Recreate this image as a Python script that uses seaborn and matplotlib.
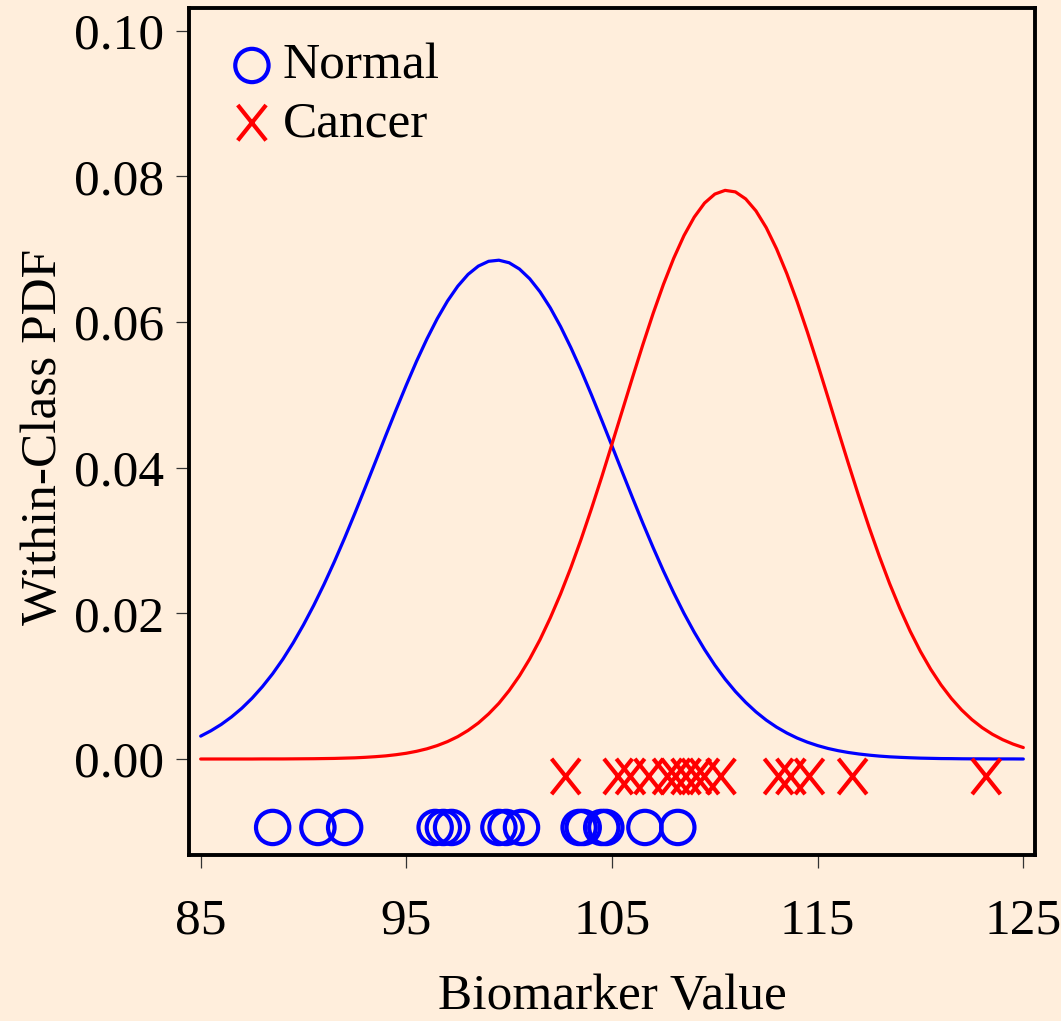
import numpy as np
import pandas as pd
import matplotlib
matplotlib.use("Agg")
import matplotlib.pyplot as plt
from matplotlib.path import Path
import seaborn as sns

# ---------------- data ----------------
biomarker_grid = [85.0, 85.5, 86.0, 86.5, 87.0, 87.5, 88.0, 88.5, 89.0, 89.5,
                  90.0, 90.5, 91.0, 91.5, 92.0, 92.5, 93.0, 93.5, 94.0, 94.5,
                  95.0, 95.5, 96.0, 96.5, 97.0, 97.5, 98.0, 98.5, 99.0, 99.5,
                  100.0, 100.5, 101.0, 101.5, 102.0, 102.5, 103.0, 103.5, 104.0, 104.5,
                  105.0, 105.5, 106.0, 106.5, 107.0, 107.5, 108.0, 108.5, 109.0, 109.5,
                  110.0, 110.5, 111.0, 111.5, 112.0, 112.5, 113.0, 113.5, 114.0, 114.5,
                  115.0, 115.5, 116.0, 116.5, 117.0, 117.5, 118.0, 118.5, 119.0, 119.5,
                  120.0, 120.5, 121.0, 121.5, 122.0, 122.5, 123.0, 123.5, 124.0, 124.5,
                  125.0]
normal_pdf = [0.00314, 0.00388, 0.00475, 0.00578, 0.00697, 0.00835, 0.00993, 0.01171, 0.01372, 0.01596,
              0.01843, 0.02111, 0.02400, 0.02709, 0.03035, 0.03376, 0.03727, 0.04083, 0.04442, 0.04794,
              0.05136, 0.05464, 0.05768, 0.06045, 0.06288, 0.06492, 0.06654, 0.06768, 0.06834, 0.06849,
              0.06814, 0.06728, 0.06594, 0.06415, 0.06195, 0.05938, 0.05649, 0.05336, 0.05001, 0.04653,
              0.04298, 0.03940, 0.03585, 0.03238, 0.02903, 0.02583, 0.02282, 0.02000, 0.01741, 0.01504,
              0.01289, 0.01097, 0.00927, 0.00778, 0.00647, 0.00534, 0.00438, 0.00357, 0.00288, 0.00231,
              0.00184, 0.00145, 0.00114, 0.00089, 0.00069, 0.00053, 0.00040, 0.00030, 0.00023, 0.00017,
              0.00012, 0.00009, 0.00006, 0.00005, 0.00003, 0.00002, 0.00002, 0.00001, 0.00001, 0.00001,
              0.00000]
cancer_pdf = [0.00000, 0.00000, 0.00000, 0.00000, 0.00000, 0.00000, 0.00001, 0.00001, 0.00001, 0.00002,
              0.00003, 0.00004, 0.00006, 0.00008, 0.00012, 0.00016, 0.00023, 0.00032, 0.00043, 0.00059,
              0.00079, 0.00106, 0.00140, 0.00184, 0.00239, 0.00307, 0.00392, 0.00494, 0.00619, 0.00765,
              0.00940, 0.01142, 0.01375, 0.01639, 0.01938, 0.02267, 0.02628, 0.03019, 0.03436, 0.03872,
              0.04325, 0.04783, 0.05241, 0.05689, 0.06118, 0.06516, 0.06875, 0.07187, 0.07441, 0.07634,
              0.07757, 0.07808, 0.07787, 0.07691, 0.07526, 0.07296, 0.07006, 0.06665, 0.06281, 0.05863,
              0.05422, 0.04967, 0.04507, 0.04052, 0.03608, 0.03183, 0.02783, 0.02408, 0.02066, 0.01754,
              0.01476, 0.01231, 0.01017, 0.00832, 0.00674, 0.00541, 0.00430, 0.00339, 0.00265, 0.00205,
              0.00157]
normal_values = [88.5, 90.7, 92.0, 96.4, 96.8, 97.2, 99.5, 99.85, 100.6,
                 103.4, 103.6, 104.5, 104.7, 106.6, 108.2]
cancer_values = [102.75, 105.3, 105.9, 106.8, 107.7, 108.1, 108.6, 109.1, 109.5,
                 110.3, 113.1, 113.7, 114.6, 116.7, 123.2]
normal_row = -0.0094
cancer_row = -0.0024
class_labels = ["Normal", "Cancer"]
x_ticks = [85, 95, 105, 115, 125]
y_ticks = [0.00, 0.02, 0.04, 0.06, 0.08, 0.10]

# ---------------- style ----------------
BG = "#FFEEDC"
sns.set_style("ticks")
plt.rcParams["font.family"] = ["Liberation Serif", "DejaVu Serif"]
plt.rcParams["axes.unicode_minus"] = False
plt.rcParams["text.color"] = "black"
plt.rcParams["axes.labelcolor"] = "black"

fig = plt.figure(figsize=(10.61, 10.21), dpi=100, facecolor=BG)
ax = fig.add_axes([0.17860, 0.16229, 0.79718, 0.82987])
ax.set_facecolor(BG)

n = len(biomarker_grid)
curves = pd.DataFrame({
    "x": biomarker_grid * 2,
    "pdf": normal_pdf + cancer_pdf,
    "cls": [class_labels[0]] * n + [class_labels[1]] * n,
})
sns.lineplot(data=curves, x="x", y="pdf", hue="cls",
             palette={"Normal": "#0000FF", "Cancer": "#FF0000"},
             linewidth=2.3, legend=False, ax=ax, sort=False)

x_marker = Path([(-0.40, -0.5), (0.40, 0.5), (-0.40, 0.5), (0.40, -0.5)],
                [Path.MOVETO, Path.LINETO, Path.MOVETO, Path.LINETO])

pts_n = pd.DataFrame({"x": normal_values, "y": [normal_row] * len(normal_values)})
pts_c = pd.DataFrame({"x": cancer_values, "y": [cancer_row] * len(cancer_values)})
sns.scatterplot(data=pts_n, x="x", y="y", marker="o", s=24 ** 2,
                facecolor="none", edgecolor="#0000FF", linewidth=3.0,
                label=class_labels[0], ax=ax, zorder=3)
sns.scatterplot(data=pts_c, x="x", y="y", marker=x_marker, s=25.5 ** 2,
                facecolor="none", edgecolor="#FF0000", linewidth=3.0,
                label=class_labels[1], ax=ax, zorder=3)

ax.set_xlim(84.456, 125.583)
ax.set_ylim(-0.013223, 0.10312)
ax.set_xticks(x_ticks)
ax.set_xticklabels([str(t) for t in x_ticks])
ax.set_yticks(y_ticks)
ax.set_yticklabels([f"{t:.2f}" for t in y_ticks])

for sp in ax.spines.values():
    sp.set_visible(True)
    sp.set_linewidth(2.8)
    sp.set_color("black")

ax.tick_params(axis="both", direction="out", length=9.4, width=0.9,
               color="#333333", labelsize=37, labelcolor="black")
ax.tick_params(axis="x", pad=21)
ax.tick_params(axis="y", pad=9)

ax.set_xlabel("Biomarker Value", fontsize=37, va="baseline", color="black")
ax.xaxis.set_label_coords(0.5, (855.3 - 1009) / 847.3)
ax.set_ylabel("Within-Class PDF", fontsize=37, va="baseline", ha="center",
              color="black")
ax.yaxis.set_label_coords((56 - 189.5) / 845.8, (855.3 - 437) / 847.3)

leg = ax.legend(loc="upper left", bbox_to_anchor=(0.0495, 0.9587),
                frameon=False, fontsize=37, handlelength=0.8,
                handletextpad=0.2, labelspacing=0.2, borderpad=0,
                borderaxespad=0)
for t in leg.get_texts():
    t.set_color("black")

fig.savefig("out.png", dpi=100, facecolor=BG)
